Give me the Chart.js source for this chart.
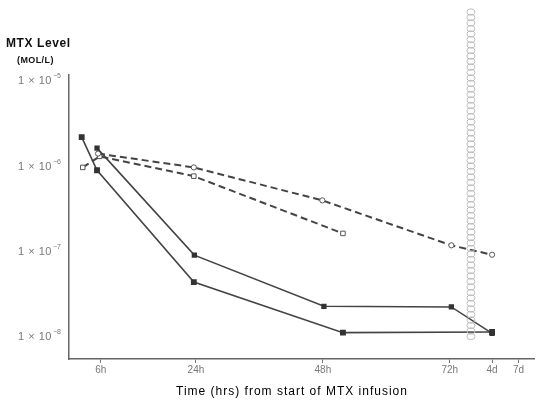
<!DOCTYPE html>
<html>
<head>
<meta charset="utf-8">
<script src="https://cdn.jsdelivr.net/npm/chart.js@4/dist/chart.umd.min.js"></script>
<style>
  html, body { margin: 0; padding: 0; background: #fff; }
  #wrap { width: 540px; height: 401px; }
</style>
</head>
<body>
<div id="wrap"><canvas id="mtxChart" width="540" height="401"></canvas></div>
<script>
// Axis ticks (x is hours; 4d and 7d sit on a compressed stretch after 72h)
const xTickHours = [6, 24, 48, 72, 80, 85];
const xTickLabels = ['6h', '24h', '48h', '72h', '4d', '7d'];
const yTickValues = [1e-5, 1e-6, 1e-7, 1e-8];
const yTickBase = '1 × 10';
const yTickExponents = ['−5', '−6', '−7', '−8'];

// Solid lines, filled squares
const solidAHours = [2.4, 5.3, 23.6, 51.8, 80];
const solidAValues = [2.15e-6, 8.8e-7, 4.3e-8, 1.1e-8, 1.12e-8];
const solidBHours = [5.3, 23.7, 48.2, 72.3, 80];
const solidBValues = [1.6e-6, 8.9e-8, 2.24e-8, 2.2e-8, 1.08e-8];

// Dashed lines, open circles / open squares
const dashCircleHours = [5.5, 23.6, 47.9, 72.3, 80];
const dashCircleValues = [1.38e-6, 9.5e-7, 3.9e-7, 1.16e-7, 9.0e-8];
const dashSquareHours = [2.6, 5.8, 23.6, 51.8];
const dashSquareValues = [9.5e-7, 1.28e-6, 7.5e-7, 1.6e-7];

// Hatched marker bar
const bandHour = 76;
const bandBottomValue = 8.7e-9;

function toPoints(hours, values) {
    return hours.map((h, i) => ({ x: h, y: values[i] }));
}

const lineColor = '#444';
const fontFamily = '"Liberation Sans", Arial, sans-serif';

// Draws the chain-like vertical band
const bandPlugin = {
    id: 'band',
    afterDatasetsDraw(chart) {
        const ctx = chart.ctx;
        const x = chart.scales.x.getPixelForValue(bandHour);
        const yBottom = chart.scales.y.getPixelForValue(bandBottomValue);
        ctx.save();
        ctx.strokeStyle = '#bdbdbd';
        ctx.lineWidth = 1;
        for (let y = 12; y < yBottom; y += 5.5) {
            ctx.beginPath();
            ctx.ellipse(x, y, 4, 3.2, 0, 0, Math.PI * 2);
            ctx.stroke();
        }
        ctx.restore();
    }
};

// Y tick labels with small superscripts, and axis titles
const textPlugin = {
    id: 'texts',
    afterDraw(chart) {
        const ctx = chart.ctx;
        const yScale = chart.scales.y;
        ctx.save();
        ctx.fillStyle = '#777';
        ctx.textBaseline = 'alphabetic';
        ctx.textAlign = 'left';
        yTickValues.forEach((v, i) => {
            const y = yScale.getPixelForValue(v);
            ctx.font = '11px ' + fontFamily;
            ctx.letterSpacing = '0.5px';
            ctx.fillText(yTickBase, 18, y + 4);
            const w = ctx.measureText(yTickBase).width;
            ctx.font = '7px ' + fontFamily;
            ctx.letterSpacing = '0px';
            ctx.fillText(yTickExponents[i], 18 + w + 1, y - 2);
        });

        ctx.fillStyle = '#111';
        ctx.textBaseline = 'middle';
        ctx.font = 'bold 12px ' + fontFamily;
        ctx.letterSpacing = '0.6px';
        ctx.fillText('MTX Level', 6, 44);
        ctx.font = 'bold 9px ' + fontFamily;
        ctx.letterSpacing = '0.4px';
        ctx.fillText('(MOL/L)', 17, 61);
        ctx.fillStyle = '#000';
        ctx.font = '12px ' + fontFamily;
        ctx.letterSpacing = '1px';
        ctx.textAlign = 'center';
        ctx.fillText('Time (hrs) from start of MTX infusion', 292, 392);
        ctx.restore();
    }
};

new Chart(document.getElementById('mtxChart'), {
    type: 'line',
    data: {
        datasets: [
            {
                data: toPoints(solidAHours, solidAValues),
                borderColor: lineColor, borderWidth: 1.6,
                pointStyle: 'rect', pointRadius: 3,
                pointBackgroundColor: '#333', pointBorderColor: '#333'
            },
            {
                data: toPoints(solidBHours, solidBValues),
                borderColor: lineColor, borderWidth: 1.6,
                pointStyle: 'rect', pointRadius: 2.6,
                pointBackgroundColor: '#333', pointBorderColor: '#333'
            },
            {
                data: toPoints(dashCircleHours, dashCircleValues),
                borderColor: lineColor, borderWidth: 2, borderDash: [7, 4],
                pointStyle: 'circle', pointRadius: 2.6, pointBorderWidth: 1,
                pointBackgroundColor: '#fff', pointBorderColor: '#555'
            },
            {
                data: toPoints(dashSquareHours, dashSquareValues),
                borderColor: lineColor, borderWidth: 2, borderDash: [7, 4],
                pointStyle: 'rect', pointRadius: 3.2, pointBorderWidth: 1,
                pointBackgroundColor: '#fff', pointBorderColor: '#555'
            }
        ]
    },
    options: {
        responsive: false,
        animation: false,
        layout: { padding: { top: 75, right: 0, left: 0, bottom: 0 } },
        plugins: { legend: { display: false }, tooltip: { enabled: false } },
        scales: {
            x: {
                type: 'linear',
                min: 0,
                max: 88,
                afterBuildTicks: axis => { axis.ticks = xTickHours.map(v => ({ value: v })); },
                afterFit: scale => { scale.height = 42; },
                grid: { display: true, drawOnChartArea: false, drawTicks: true, tickLength: 4, color: '#777' },
                border: { color: '#666', width: 1.5 },
                ticks: {
                    autoSkip: false, maxRotation: 0, padding: 1,
                    color: '#777', font: { size: 10, family: fontFamily },
                    callback: v => xTickLabels[xTickHours.indexOf(v)]
                }
            },
            y: {
                type: 'logarithmic',
                min: 5.4e-9,
                max: 1.15e-5,
                afterBuildTicks: axis => { axis.ticks = yTickValues.map(v => ({ value: v })); },
                afterFit: scale => { scale.width = 69; },
                grid: { display: false, drawTicks: false },
                border: { color: '#666', width: 1.5 },
                ticks: { display: false }
            }
        }
    },
    plugins: [bandPlugin, textPlugin]
});
</script>
</body>
</html>
